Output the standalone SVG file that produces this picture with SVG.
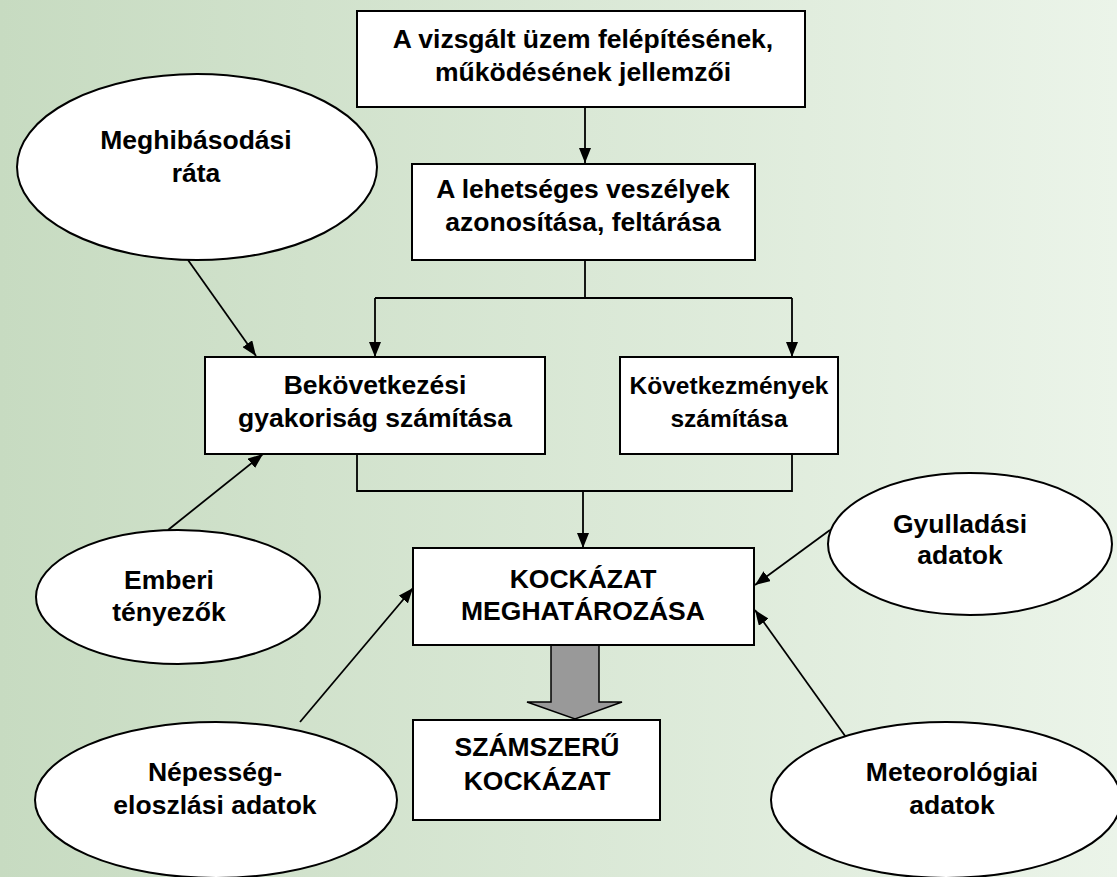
<svg xmlns="http://www.w3.org/2000/svg" width="1117" height="877" viewBox="0 0 1117 877">
<defs>
<linearGradient id="bg" x1="0" y1="0" x2="1" y2="0">
<stop offset="0" stop-color="#c7dbc1"/>
<stop offset="1" stop-color="#ebf4e9"/>
</linearGradient>
<marker id="ah" viewBox="0 0 15 12" refX="15" refY="6" markerWidth="15" markerHeight="12" markerUnits="userSpaceOnUse" orient="auto">
<path d="M0,0 L15,6 L0,12 Z" fill="#000"/>
</marker>
</defs>
<style>
.box{fill:#fff;stroke:#000;stroke-width:2}
.ell{fill:#fff;stroke:#000;stroke-width:2}
.t{font-family:"Liberation Sans",Arial,sans-serif;font-weight:bold;font-size:26.5px;text-anchor:middle;fill:#000}
.s{font-size:24.5px}
.c{fill:none;stroke:#000;stroke-width:1.8}
.ca{fill:none;stroke:#000;stroke-width:1.8;marker-end:url(#ah)}
</style>
<rect x="0" y="0" width="1117" height="877" fill="url(#bg)"/>

<g id="connectors">
<path class="ca" d="M585,107 L585,163"/>
<path class="c" d="M585,260 L585,298"/>
<path class="c" d="M375,298 L792,298"/>
<path class="ca" d="M375,298 L375,357"/>
<path class="ca" d="M792,298 L792,357"/>
<path class="c" d="M357,454 L357,491 L792,491 L792,454"/>
<path class="ca" d="M583,491 L583,548"/>
<path class="ca" d="M188,260 L256,356"/>
<path class="ca" d="M168,530 L263,454"/>
<path class="ca" d="M300,722 L413,588"/>
<path class="ca" d="M830,530 L755,585"/>
<path class="ca" d="M848,740 L755,610"/>
<path d="M551,645 L599,645 L599,702 L622,702 L575,719 L527,702 L551,702 Z" fill="#999" stroke="#000" stroke-width="1.5"/>
</g>

<g id="n1">
<rect class="box" x="357" y="11" width="448" height="96"/>
<text class="t" x="583" y="48">A vizsgált üzem felépítésének,</text>
<text class="t" x="583" y="81">működésének jellemzői</text>
</g>
<g id="n2">
<rect class="box" x="412" y="164" width="343" height="96"/>
<text class="t" x="583" y="198">A lehetséges veszélyek</text>
<text class="t" x="583" y="231">azonosítása, feltárása</text>
</g>
<g id="n3">
<rect class="box" x="205" y="357" width="340" height="97"/>
<text class="t" x="375" y="394">Bekövetkezési</text>
<text class="t" x="375" y="427">gyakoriság számítása</text>
</g>
<g id="n4">
<rect class="box" x="620" y="357" width="218" height="97"/>
<text class="t s" x="729" y="394">Következmények</text>
<text class="t s" x="729" y="427">számítása</text>
</g>
<g id="n5">
<rect class="box" x="413" y="548" width="341" height="97"/>
<text class="t" x="583" y="588">KOCKÁZAT</text>
<text class="t" x="583" y="620">MEGHATÁROZÁSA</text>
</g>
<g id="n6">
<rect class="box" x="413" y="720" width="247" height="100"/>
<text class="t" x="537" y="756">SZÁMSZERŰ</text>
<text class="t" x="537" y="790">KOCKÁZAT</text>
</g>
<g id="e1">
<ellipse class="ell" cx="197" cy="167" rx="180" ry="93"/>
<text class="t" x="196" y="149">Meghibásodási</text>
<text class="t" x="196" y="182">ráta</text>
</g>
<g id="e2">
<ellipse class="ell" cx="178" cy="597" rx="142" ry="67"/>
<text class="t" x="169" y="589">Emberi</text>
<text class="t" x="169" y="621">tényezők</text>
</g>
<g id="e3">
<ellipse class="ell" cx="216" cy="800" rx="181" ry="78"/>
<text class="t" x="215" y="781">Népesség-</text>
<text class="t" x="215" y="814">eloszlási adatok</text>
</g>
<g id="e4">
<ellipse class="ell" cx="970" cy="544" rx="142" ry="71"/>
<text class="t" x="960" y="533">Gyulladási</text>
<text class="t" x="960" y="564">adatok</text>
</g>
<g id="e5">
<ellipse class="ell" cx="946" cy="800" rx="175" ry="78"/>
<text class="t" x="952" y="781">Meteorológiai</text>
<text class="t" x="952" y="814">adatok</text>
</g>
</svg>
